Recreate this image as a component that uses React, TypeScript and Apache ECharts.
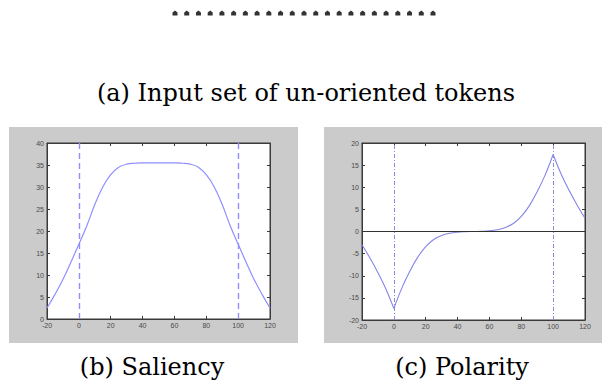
import React, { useEffect, useRef } from "react";
import * as echarts from "echarts";

// ---- data ----
const tokenX = [0, 1, 2, 3, 4, 5, 6, 7, 8, 9, 10, 11, 12, 13, 14, 15, 16, 17, 18, 19, 20, 21, 22];
const tokenY = [0, 0, 0, 0, 0, 0, 0, 0, 0, 0, 0, 0, 0, 0, 0, 0, 0, 0, 0, 0, 0, 0, 0];

const xs = [-20, -15, -10, -5, 0, 5, 10, 15, 20, 25, 30, 35, 40, 45, 50, 55, 60, 65, 70, 75, 80, 85, 90, 95, 100, 105, 110, 115, 120];
const saliency = [2.5, 5.6, 9.0, 12.9, 17.0, 21.2, 26.0, 30.0, 32.8, 34.5, 35.2, 35.4, 35.5, 35.5, 35.5, 35.5, 35.5, 35.4, 35.2, 34.5, 32.8, 30.0, 26.0, 21.2, 17.0, 12.9, 9.0, 5.6, 2.5];
const polarity = [-3.0, -6.0, -9.3, -13.0, -17.4, -12.8, -9.0, -5.8, -3.4, -1.8, -0.9, -0.4, -0.15, -0.05, 0, 0.05, 0.15, 0.4, 0.9, 1.8, 3.4, 5.8, 9.0, 12.8, 17.4, 13.0, 9.3, 6.0, 3.0];

const boundaries = [0, 100];
const zeroLevel = [0];

const titleA = "(a) Input set of un-oriented tokens";
const captionB = "(b) Saliency";
const captionC = "(c) Polarity";

const pairs = (a: number[], b: number[]) => a.map((v, i) => [v, b[i]]);

export default function App() {
  const ref = useRef<HTMLDivElement>(null);
  useEffect(() => {
    if (!ref.current) return;
    const chart = echarts.init(ref.current, undefined, { renderer: "svg" });

    const labelStyle = { fontSize: 7, color: "#4a4a4a", fontFamily: "Liberation Sans", margin: 3 };
    const axisLine = { show: true, onZero: false, lineStyle: { color: "#3a3a3a", width: 1 } };
    const tick = { show: true, inside: true, length: 3, lineStyle: { color: "#3a3a3a" } };

    const mkX = (gridIndex: number, position: string, showLabel: boolean) => ({
      type: "value", gridIndex, position, min: -20, max: 120, interval: 20,
      axisLine, axisTick: tick, splitLine: { show: false },
      axisLabel: { ...labelStyle, show: showLabel },
    });
    const mkY = (gridIndex: number, position: string, showLabel: boolean, min: number, max: number) => ({
      type: "value", gridIndex, position, min, max, interval: 5,
      axisLine, axisTick: tick, splitLine: { show: false },
      axisLabel: { ...labelStyle, show: showLabel },
    });

    const polPairs = pairs(xs, polarity);
    const i0 = xs.indexOf(boundaries[0]);
    const i1 = xs.indexOf(boundaries[1]);
    const curveColor = "#8f8fff";
    const polColor = "#8585e8";

    const polSeg = (data: number[][]) => ({
      type: "line", xAxisIndex: 3, yAxisIndex: 3, data, smooth: 0.4,
      showSymbol: false, lineStyle: { color: polColor, width: 1.1 },
    });

    const mkTitle = (text: string, cx: number, cy: number) => ({
      text, left: cx, top: cy, textAlign: "center", textVerticalAlign: "middle", padding: 0,
      textStyle: { fontFamily: "DejaVu Serif", fontSize: 24, fontWeight: "normal", color: "#000" },
    });

    chart.setOption({
      animation: false,
      backgroundColor: "#ffffff",
      title: [
        mkTitle(titleA, 306, 93),
        mkTitle(captionB, 152, 367),
        mkTitle(captionC, 462, 367),
      ],
      grid: [
        { left: 175, top: 8, width: 258, height: 10 },
        { left: 47, top: 143, width: 223, height: 176, show: true, backgroundColor: "#ffffff", borderColor: "#3a3a3a", borderWidth: 1 },
        { left: 362, top: 143, width: 223, height: 177, show: true, backgroundColor: "#ffffff", borderColor: "#3a3a3a", borderWidth: 1 },
      ],
      xAxis: [
        { type: "value", gridIndex: 0, min: 0, max: 22, show: false },
        mkX(1, "bottom", true),
        mkX(1, "top", false),
        mkX(2, "bottom", true),
        mkX(2, "top", false),
      ],
      yAxis: [
        { type: "value", gridIndex: 0, min: -1, max: 1, show: false },
        mkY(1, "left", true, 0, 40),
        mkY(1, "right", false, 0, 40),
        mkY(2, "left", true, -20, 20),
        mkY(2, "right", false, -20, 20),
      ],
      graphic: [
        { type: "rect", z: -10, shape: { x: 9, y: 127, width: 289, height: 216 }, style: { fill: "#cbcbcb" } },
        { type: "rect", z: -10, shape: { x: 324, y: 127, width: 278, height: 216 }, style: { fill: "#cbcbcb" } },
      ],
      series: [
        {
          type: "scatter", xAxisIndex: 0, yAxisIndex: 0, data: pairs(tokenX, tokenY),
          symbol: "path://M0,10 L0,4 L5,0 L10,4 L10,10 Z", symbolSize: [5, 5],
          itemStyle: { color: "#000" },
        },
        {
          type: "line", xAxisIndex: 1, yAxisIndex: 1, data: pairs(xs, saliency), smooth: 0.4,
          showSymbol: false, lineStyle: { color: curveColor, width: 1.2 },
          markLine: {
            silent: true, symbol: "none", label: { show: false },
            lineStyle: { color: "#8f8fff", type: [6, 4], width: 1.4 },
            data: boundaries.map((b) => ({ xAxis: b })),
          },
        },
        {
          type: "line", xAxisIndex: 3, yAxisIndex: 3, data: polPairs.slice(i0, i1 + 1), smooth: 0.4,
          showSymbol: false, lineStyle: { color: polColor, width: 1.1 },
          markLine: {
            silent: true, symbol: "none", label: { show: false },
            data: [
              ...boundaries.map((b) => ({ xAxis: b, lineStyle: { color: "#8a8ae0", type: [4, 2, 1, 2], width: 1 } })),
              ...zeroLevel.map((z) => ({ yAxis: z, lineStyle: { color: "#333333", type: "solid", width: 1 } })),
            ],
          },
        },
        polSeg(polPairs.slice(0, i0 + 1)),
        polSeg(polPairs.slice(i1)),
      ],
    });
    return () => chart.dispose();
  }, []);
  return <div ref={ref} style={{ position: "fixed", left: 0, top: 0, width: 602, height: 386 }} />;
}
